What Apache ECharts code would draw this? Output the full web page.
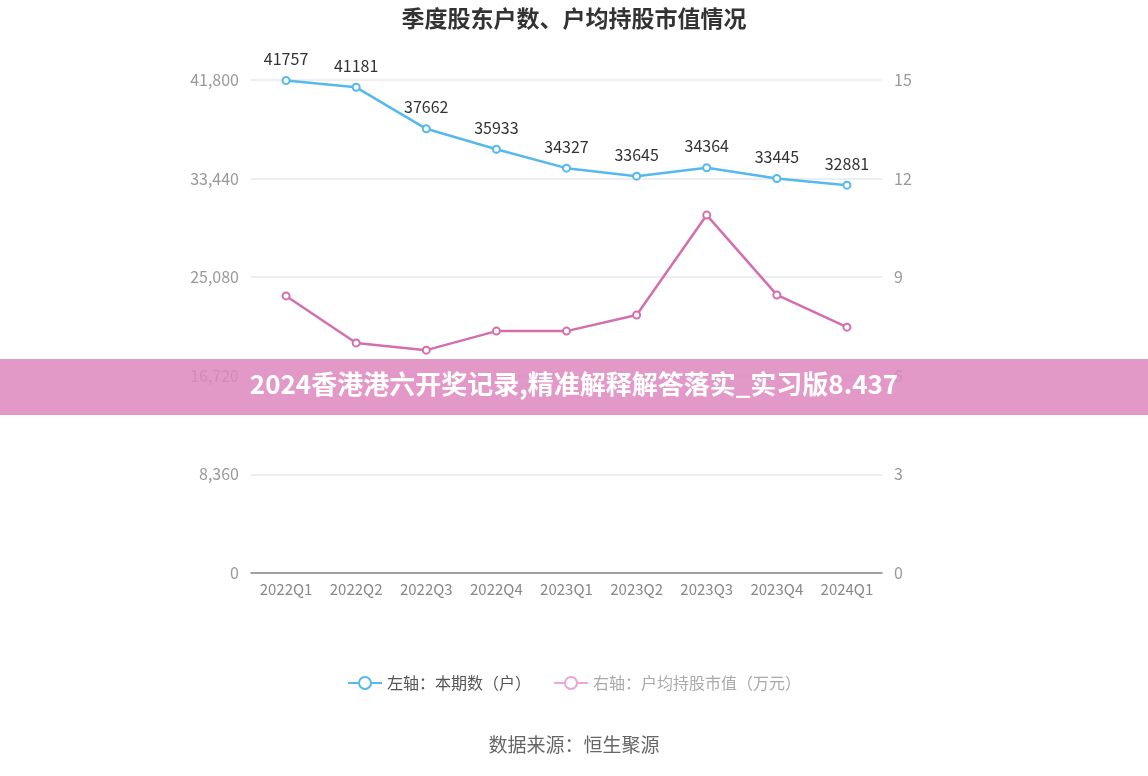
<!DOCTYPE html>
<html><head><meta charset="utf-8">
<script src="https://cdn.jsdelivr.net/npm/echarts@6/dist/echarts.min.js"></script>
<style>html,body{margin:0;padding:0;background:#fff}#c{width:1148px;height:776px}</style>
</head><body><div id="c"></div>
<script>
var categories = ['2022Q1','2022Q2','2022Q3','2022Q4','2023Q1','2023Q2','2023Q3','2023Q4','2024Q1'];
var holders = [41757,41181,37662,35933,34327,33645,34364,33445,32881];
var avgValue = [8.43,7.0,6.78,7.36,7.36,7.85,10.89,8.46,7.48];
var leftTicks = [0,8360,16720,25080,33440,41800];
var rightTicks = [0,3,6,9,12,15];

var font = '"Noto Sans CJK SC", "Microsoft YaHei", sans-serif';
var chart = echarts.init(document.getElementById('c'));
chart.setOption({
  animation:false,
  textStyle:{fontFamily:font},
  title:{text:'季度股东户数、户均持股市值情况',left:'center',top:2,textStyle:{fontSize:23,fontWeight:'bold',color:'#333',fontFamily:font}},
  grid:{left:251,right:266,top:80,bottom:203},
  legend:{bottom:80,left:'center',itemWidth:34,itemHeight:15,itemGap:22,textStyle:{fontSize:16,color:'#555'},
    data:[{name:'左轴：本期数（户）',textStyle:{color:'#555'}},
          {name:'右轴：户均持股市值（万元）',textStyle:{color:'#aaa'},itemStyle:{color:'#eaa9d2',borderColor:'#eaa9d2'},lineStyle:{color:'#eaa9d2'}}]},
  xAxis:{type:'category',data:categories,boundaryGap:true,
    axisLine:{lineStyle:{color:'#888',width:1.5}},axisTick:{alignWithLabel:true,interval:0,length:5,lineStyle:{color:'#888'}},
    axisLabel:{color:'#888',fontSize:15,margin:9,interval:0}},
  yAxis:[
    {type:'value',min:leftTicks[0],max:leftTicks[leftTicks.length-1],interval:leftTicks[1]-leftTicks[0],
      axisLine:{show:false},axisTick:{show:false},
      axisLabel:{color:'#999',fontSize:16,margin:12,formatter:function(v){return v.toLocaleString('en-US');}},
      splitLine:{lineStyle:{color:'#e6e9f0',width:1.5}}},
    {type:'value',min:rightTicks[0],max:rightTicks[rightTicks.length-1],interval:rightTicks[1]-rightTicks[0],
      axisLine:{show:false},axisTick:{show:false},
      axisLabel:{color:'#999',fontSize:16,margin:12},splitLine:{show:false}}
  ],
  series:[
    {name:'左轴：本期数（户）',type:'line',yAxisIndex:0,data:holders,symbol:'emptyCircle',symbolSize:7,
      itemStyle:{color:'#55b9ed',borderWidth:2},lineStyle:{color:'#55b9ed',width:2.5},
      label:{show:true,position:'top',distance:9,color:'#333',fontSize:16}},
    {name:'右轴：户均持股市值（万元）',type:'line',yAxisIndex:1,data:avgValue,symbol:'emptyCircle',symbolSize:7,
      itemStyle:{color:'#d46fae',borderWidth:2},lineStyle:{color:'#d46fae',width:2.5}}
  ],
  graphic:[
    {type:'text',left:'center',top:735,style:{text:'数据来源：恒生聚源',fontSize:19,fill:'#666',fontFamily:font}},
    {type:'rect',left:0,top:359,shape:{width:1148,height:56},style:{fill:'rgba(222,135,190,0.85)'},z:100},
    {type:'text',left:'center',top:371,z:101,style:{text:'2024香港港六开奖记录,精准解释解答落实_实习版8.437',fontSize:26,fontWeight:'bold',fill:'#fff',fontFamily:font}}
  ]
});
</script></body></html>
